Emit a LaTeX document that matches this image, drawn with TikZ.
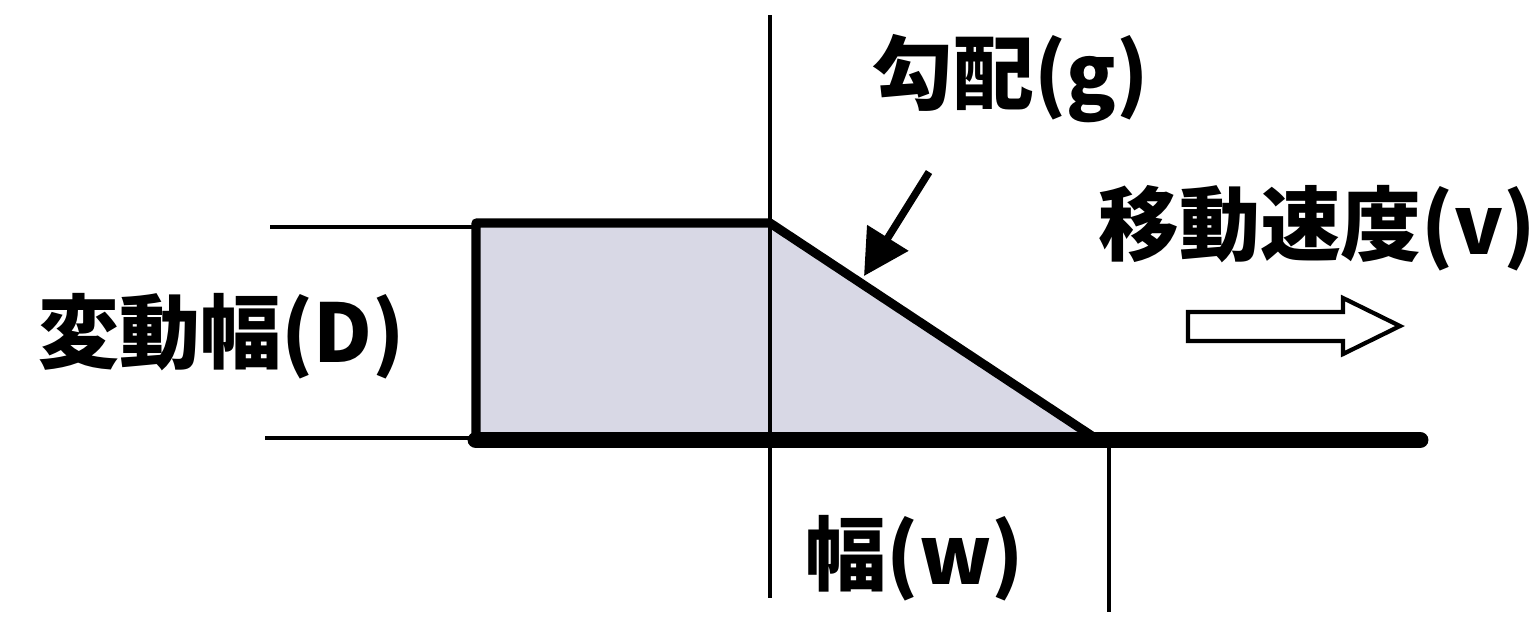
\documentclass[tikz,border=0pt]{standalone}
\usepackage{fontspec}
\newfontfamily\jpfont{Noto Sans CJK JP}
\usetikzlibrary{arrows.meta}
\definecolor{bandfill}{RGB}{216,216,229}

\begin{document}
\begin{tikzpicture}[
    x=0.01cm, y=-0.01cm,
    label/.style={inner sep=0pt, font=\jpfont\bfseries\fontsize{23}{27}\selectfont},
    guide/.style={line width=0.9pt},
    edge/.style={line width=2.6pt, line join=round},
    ground/.style={line width=4.8pt, line cap=round},
    pointer/.style={line width=2.1pt, -{Triangle[length=0.45cm, width=0.47cm]}},
]
\useasboundingbox (0,0) rectangle (1536,617);

% fixed points
\coordinate (tl) at (476,223);
\coordinate (tr) at (770,223);
\coordinate (toe) at (1095,438);
\coordinate (bl) at (476,438);
\coordinate (gend) at (1420,440);
\coordinate (hitpt) at (864,276);
\coordinate (ptrfrom) at (929,172);

% guide lines
\draw[guide] (770,15) -- (770,598);
\draw[guide] (1109,440) -- (1109,612);
\draw[guide] (270,227) -- (tl |- 0,227);
\draw[guide] (265,438) -- (bl);

% profile
\fill[bandfill] (tl) -- (tr) -- (toe) -- (bl) -- cycle;
\draw[guide] (770,223) -- (770,438);
\draw[edge] (bl) -- (tl) -- (tr) -- (toe);
\draw[ground] (476,440) -- (gend);

\draw[pointer] (ptrfrom) -- (hitpt);

% moving direction
\draw[line width=1.2pt, fill=white, line join=miter]
    (1188,312) -- (1343,312) -- (1343,298) -- (1400,326)
    -- (1343,354) -- (1343,341) -- (1188,341) -- cycle;

\node[label] (amp) at (222,336) {変動幅(D)};
\node[label] (grad) at (1011,79) {勾配(g)};
\node[label] (speed) at (1317,228) {移動速度(v)};
\node[label] (width) at (915,558) {幅(w)};
\end{tikzpicture}
\end{document}
